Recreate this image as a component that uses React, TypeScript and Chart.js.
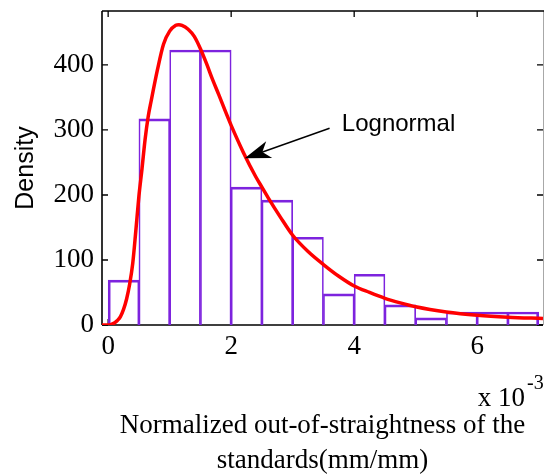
import React, { useEffect, useRef } from 'react';
import { Chart, registerables } from 'chart.js';

Chart.register(...registerables);

// ---- data ----
const binCenters = [0.25, 0.75, 1.25, 1.75, 2.25, 2.75, 3.25, 3.75, 4.25, 4.75, 5.25, 5.75, 6.25, 6.75];
const binDensity = [69, 317, 423, 423, 212, 192, 135, 48, 78, 31, 11, 20, 20, 20];

const fitX = [-0.1, 0, 0.05, 0.1, 0.15, 0.2, 0.25, 0.3, 0.35, 0.4, 0.45, 0.5, 0.55, 0.6, 0.65, 0.7, 0.8, 0.9, 1.0, 1.1, 1.15, 1.2, 1.3, 1.4, 1.5, 1.6, 1.7, 1.8, 1.9, 2.0, 2.2, 2.4, 2.5, 2.6, 2.8, 3.0, 3.25, 3.5, 3.75, 4.0, 4.25, 4.5, 4.75, 5.0, 5.5, 6.0, 6.5, 7.07];
const fitY = [0, 0, 1, 3, 7, 13, 24, 40, 63, 95, 145, 198, 240, 285, 320, 345, 392, 432, 452, 461, 462, 461, 455, 444, 425, 402, 377, 354, 330, 307, 265, 228, 212, 196, 166, 138, 113, 93, 75, 60, 50, 41, 34, 28, 20, 15, 12, 10];

const xTickValues = [0, 2, 4, 6];
const xTickLabels = ['0', '2', '4', '6'];
const yTickValues = [0, 100, 200, 300, 400];
const yTickLabels = ['0', '100', '200', '300', '400'];

const xTitleLines = ['Normalized out-of-straightness of the', 'standards(mm/mm)'];
const yTitleText = 'Density';
const exponentBase = 'x 10';
const exponentPower = '-3';

const annotationText = 'Lognormal';
const annotationAnchor = { x: 3.8, y: 298.5 };
const arrowTail = { x: 3.6, y: 302.6 };
const arrowTip = { x: 2.22, y: 256.4 };

const X_MIN = -0.1;
const X_MAX = 7.07;
const Y_MIN = 0;
const Y_MAX = 483;

const SERIF = "'Liberation Serif', 'Times New Roman', serif";
const SANS = "'Liberation Sans', Arial, sans-serif";
const PURPLE = 'rgb(125, 35, 222)';
const RED = '#ff0000';

const framePlugin = {
  id: 'matlabFrame',
  beforeDatasetsDraw(chart: any) {
    const { ctx, chartArea } = chart;
    const { left, right, top, bottom } = chartArea;
    const xs = chart.scales.x;
    const ys = chart.scales.y;
    ctx.save();
    ctx.strokeStyle = '#a8a8a8';
    ctx.lineWidth = 1;
    ctx.beginPath();
    ctx.moveTo(right + 0.5, top);
    ctx.lineTo(right + 0.5, bottom);
    ctx.stroke();
    ctx.strokeStyle = '#000';
    ctx.lineWidth = 1.6;
    ctx.beginPath();
    ctx.moveTo(left, top);
    ctx.lineTo(left, bottom);
    ctx.moveTo(left, bottom);
    ctx.lineTo(right, bottom);
    ctx.moveTo(left, top);
    ctx.lineTo(right + 1, top);
    ctx.stroke();
    const tl = 6;
    ctx.lineWidth = 1.3;
    ctx.beginPath();
    xTickValues.forEach((v) => {
      const px = xs.getPixelForValue(v);
      ctx.moveTo(px, bottom);
      ctx.lineTo(px, bottom - tl);
      ctx.moveTo(px, top);
      ctx.lineTo(px, top + tl);
    });
    yTickValues.forEach((v) => {
      const py = ys.getPixelForValue(v);
      ctx.moveTo(left, py);
      ctx.lineTo(left + tl, py);
      ctx.moveTo(right, py);
      ctx.lineTo(right - tl, py);
    });
    ctx.stroke();
    ctx.restore();
  },
  afterDraw(chart: any) {
    const { ctx, chartArea } = chart;
    const xs = chart.scales.x;
    const ys = chart.scales.y;
    ctx.save();
    ctx.fillStyle = '#000';
    ctx.font = `27px ${SERIF}`;
    ctx.textAlign = 'right';
    ctx.textBaseline = 'alphabetic';
    ctx.fillText(exponentBase, chartArea.right - 18, chartArea.bottom + 81);
    ctx.font = `20px ${SERIF}`;
    ctx.textAlign = 'left';
    ctx.fillText(exponentPower, chartArea.right - 16, chartArea.bottom + 64);

    ctx.font = `24px ${SANS}`;
    ctx.textAlign = 'left';
    ctx.fillText(annotationText, xs.getPixelForValue(annotationAnchor.x), ys.getPixelForValue(annotationAnchor.y));

    const tx = xs.getPixelForValue(arrowTail.x);
    const ty = ys.getPixelForValue(arrowTail.y);
    const hx = xs.getPixelForValue(arrowTip.x);
    const hy = ys.getPixelForValue(arrowTip.y);
    const dx = tx - hx;
    const dy = ty - hy;
    const len = Math.sqrt(dx * dx + dy * dy);
    const ux = dx / len;
    const uy = dy / len;
    const px = -uy;
    const py = ux;
    const L = 26;
    const W = 9;
    ctx.strokeStyle = '#000';
    ctx.lineWidth = 1.4;
    ctx.beginPath();
    ctx.moveTo(tx, ty);
    ctx.lineTo(hx + ux * L * 0.7, hy + uy * L * 0.7);
    ctx.stroke();
    ctx.beginPath();
    ctx.moveTo(hx, hy);
    ctx.lineTo(hx + ux * L + px * W, hy + uy * L + py * W);
    ctx.lineTo(hx + ux * L * 0.72, hy + uy * L * 0.72);
    ctx.lineTo(hx + ux * L - px * W, hy + uy * L - py * W);
    ctx.closePath();
    ctx.fillStyle = '#000';
    ctx.fill();
    ctx.restore();
  },
};

export default function App() {
  const canvasRef = useRef<HTMLCanvasElement | null>(null);

  useEffect(() => {
    const canvas = canvasRef.current;
    if (!canvas) return;
    const chart = new Chart(canvas, {
      type: 'bar',
      data: {
        datasets: [
          {
            type: 'line',
            label: 'Lognormal',
            data: fitX.map((x, i) => ({ x, y: fitY[i] })),
            borderColor: RED,
            borderWidth: 3.5,
            pointRadius: 0,
            fill: false,
            cubicInterpolationMode: 'monotone',
            order: 0,
          } as any,
          {
            type: 'bar',
            label: 'Histogram',
            data: binCenters.map((x, i) => ({ x, y: binDensity[i] })),
            backgroundColor: 'rgba(255,255,255,0)',
            borderColor: PURPLE,
            borderWidth: (c: any) => ({
              top: 2,
              left: c.dataIndex === 0 ? 2 : 1,
              right: c.dataIndex === binCenters.length - 1 ? 2 : 1,
              bottom: 0,
            }),
            borderSkipped: 'start',
            barPercentage: 1,
            categoryPercentage: 1,
            order: 1,
          } as any,
        ],
      },
      options: {
        responsive: false,
        animation: false,
        devicePixelRatio: 1,
        layout: { padding: { top: 11, right: 1, left: 0, bottom: 0 } },
        plugins: {
          legend: { display: false },
          tooltip: { enabled: false },
        },
        scales: {
          x: {
            type: 'linear',
            min: X_MIN,
            max: X_MAX,
            offset: false,
            grid: { display: false, drawTicks: false },
            border: { display: false },
            afterBuildTicks: (s: any) => {
              s.ticks = xTickValues.map((v) => ({ value: v }));
            },
            afterFit: (s: any) => {
              s.height = 149;
              s.paddingLeft = 0;
              s.paddingRight = 0;
            },
            ticks: {
              autoSkip: false,
              maxRotation: 0,
              padding: 6,
              color: '#000',
              font: { family: SERIF, size: 27 },
              callback: (_v: any, i: number) => xTickLabels[i],
            },
            title: {
              display: true,
              text: xTitleLines,
              color: '#000',
              font: { family: SERIF, size: 27, lineHeight: 1.315 },
              padding: { top: 0, bottom: -5 },
            },
          },
          y: {
            type: 'linear',
            min: Y_MIN,
            max: Y_MAX,
            grid: { display: false, drawTicks: false },
            border: { display: false },
            afterBuildTicks: (s: any) => {
              s.ticks = yTickValues.map((v) => ({ value: v }));
            },
            afterFit: (s: any) => {
              s.width = 102;
              s.paddingTop = 0;
              s.paddingBottom = 0;
            },
            ticks: {
              autoSkip: false,
              padding: 8,
              color: '#000',
              font: { family: SERIF, size: 27 },
              callback: (_v: any, i: number) => yTickLabels[i],
            },
            title: {
              display: true,
              text: yTitleText,
              color: '#000',
              font: { family: SANS, size: 25 },
              padding: { top: 11, bottom: 0 },
            },
          },
        },
      } as any,
      plugins: [framePlugin],
    });
    return () => chart.destroy();
  }, []);

  return (
    <div style={{ position: 'fixed', left: 0, top: 0, width: 544, height: 474, background: '#fff' }}>
      <canvas ref={canvasRef} width={544} height={474} style={{ display: 'block' }} />
    </div>
  );
}
